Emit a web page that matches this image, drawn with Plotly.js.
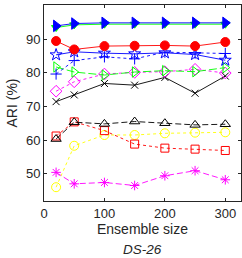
<!DOCTYPE html>
<html><head><meta charset="utf-8">
<script src="https://cdn.plot.ly/plotly-3.0.1.min.js"></script>
<style>html,body{margin:0;padding:0;background:#fff}#g{width:242px;height:258px}</style>
</head><body><div id="g"></div>
<script>
const ensembleSize = [20, 50, 100, 150, 200, 250, 300];
const blueTriRight = [93.9, 94.6, 94.8, 94.8, 94.8, 94.8, 94.8];
const greenTriDown = [93.4, 94.2, 94.4, 94.4, 94.4, 94.4, 94.4];
const redCircle = [89.4, 86.9, 87.9, 88.0, 88.1, 87.9, 89.1];
const bluePentagram = [85.3, 86.2, 85.8, 85.6, 85.9, 85.4, 83.7];
const bluePlus = [79.6, 83.6, 84.7, 84.1, 86.1, 85.8, 85.7];
const greenTriRight = [81.7, 80.2, 79.3, 80.2, 80.6, 80.3, 81.5];
const magentaDiamond = [74.5, 77.3, 79.6, 80.1, 80.3, 81.0, 79.9];
const blackX = [71.4, 73.4, 76.8, 76.3, 78.6, 73.9, 79.0];
const blackTriUp = [60.3, 65.3, 64.8, 65.5, 65.0, 64.5, 64.7];
const redSquare = [61.2, 65.4, 62.8, 58.8, 57.6, 57.3, 56.9];
const yellowCircle = [46.0, 58.3, 61.5, 61.5, 62.0, 62.2, 62.3];
const magentaAsterisk = [50.4, 47.0, 47.4, 46.5, 49.4, 50.9, 48.2];

const xTicks = [0, 100, 200, 300];
const yTicks = [50, 60, 70, 80, 90, 100];

function tr(y, color, symbol, dash, size) {
  return {
    x: ensembleSize, y: y, type: 'scatter', mode: 'lines+markers',
    line: {color: color, width: 0.9, dash: dash},
    marker: {symbol: symbol, size: size, color: color,
             line: {color: color, width: 1}},
    showlegend: false, hoverinfo: 'skip'
  };
}

const data = [
  tr(yellowCircle, '#ffff00', 'circle-open', 'dot', 9),
  tr(magentaAsterisk, '#ff00ff', 'asterisk-open', '6px,3px', 8),
  tr(redSquare, '#ff0000', 'square-open', 'dot', 8),
  tr(blackTriUp, '#000000', 'triangle-up-open', '6px,3px', 9),
  tr(blackX, '#000000', 'x-thin-open', 'solid', 7),
  tr(magentaDiamond, '#ff00ff', 'diamond-open', 'dot', 9),
  tr(greenTriRight, '#00ff00', 'triangle-right-open', '8px,3px', 9),
  tr(bluePlus, '#0000ff', 'cross-thin-open', 'dot', 8),
  tr(bluePentagram, '#0000ff', 'star-open', 'solid', 9),
  tr(redCircle, '#ff0000', 'circle', 'solid', 9),
  tr(greenTriDown, '#00ff00', 'triangle-down', 'solid', 8),
  tr(blueTriRight, '#0000ff', 'triangle-right', 'solid', 10)
];

const axisCommon = {
  showline: true, mirror: 'ticks', linecolor: '#262626', linewidth: 1,
  ticks: 'inside', ticklen: 3, tickcolor: '#262626', tickwidth: 1,
  showgrid: false, zeroline: false,
  tickfont: {family: 'Liberation Sans, Arial, sans-serif', size: 13, color: '#262626'}
};

const layout = {
  width: 242, height: 258,
  margin: {l: 44, r: 1, t: 5, b: 57},
  paper_bgcolor: '#fff', plot_bgcolor: '#fff',
  xaxis: Object.assign({}, axisCommon, {
    range: [0, 326], tickvals: xTicks, ticktext: xTicks.map(String),
    title: {text: 'Ensemble size', standoff: 4,
            font: {family: 'Liberation Sans, Arial, sans-serif', size: 14, color: '#262626'}}
  }),
  yaxis: Object.assign({}, axisCommon, {
    range: [41.9, 100.1], tickvals: yTicks, ticktext: yTicks.map(String),
    title: {text: 'ARI (%)', standoff: 5,
            font: {family: 'Liberation Sans, Arial, sans-serif', size: 14, color: '#262626'}}
  }),
  annotations: [{
    text: '<i>DS-26</i>', xref: 'paper', yref: 'paper', x: 0.5, y: 0,
    xanchor: 'center', yanchor: 'middle', yshift: -48, showarrow: false,
    font: {family: 'Liberation Sans, Arial, sans-serif', size: 13.5, color: '#262626'}
  }]
};

Plotly.newPlot('g', data, layout, {staticPlot: true, displayModeBar: false});
</script>
</body></html>
